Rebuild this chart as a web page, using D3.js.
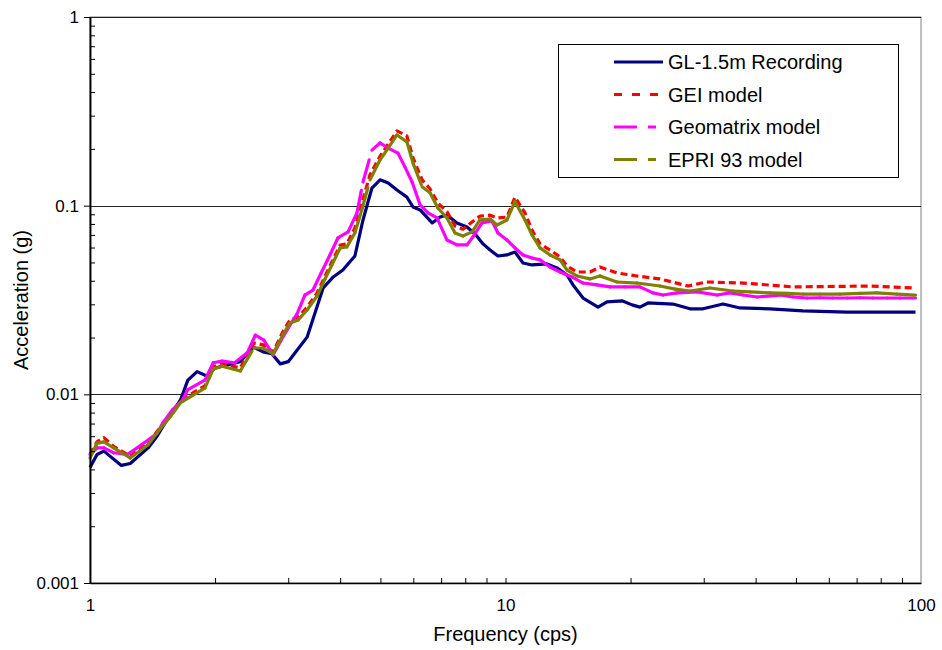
<!DOCTYPE html>
<html>
<head>
<meta charset="utf-8">
<script src="https://cdn.jsdelivr.net/npm/d3@7"></script>
<style>
body { margin: 0; background: #fff; }
svg { display: block; font-family: Arial, "Liberation Sans", sans-serif; }
</style>
</head>
<body>
<svg id="chart"></svg>
<script>
// response spectra
const recFreq = [1.00,1.04,1.08,1.19,1.25,1.38,1.45,1.53,1.65,1.72,1.81,1.91,2.00,2.14,2.30,2.47,2.61,2.74,2.87,3.00,3.33,3.64,3.85,4.06,4.34,4.54,4.77,4.99,5.22,5.48,5.79,5.99,6.23,6.66,6.96,7.23,7.64,8.08,8.45,8.83,9.18,9.59,10.08,10.54,11.02,11.58,12.59,13.30,14.06,14.54,15.37,16.70,17.55,19.07,20.16,21.07,22.03,25.30,27.80,29.88,33.39,36.68,43.3,52.0,66.4,97];
const recAcc = [0.0041,0.0048,0.0050,0.0042,0.0043,0.0052,0.0060,0.0073,0.0093,0.0119,0.0132,0.0125,0.0138,0.0143,0.0149,0.0178,0.0168,0.0164,0.0145,0.0149,0.0201,0.0366,0.0419,0.0456,0.0541,0.084,0.124,0.137,0.132,0.121,0.111,0.0984,0.0949,0.081,0.0871,0.0893,0.081,0.0771,0.0708,0.0627,0.0582,0.0541,0.0548,0.0568,0.0497,0.0485,0.0491,0.0468,0.0429,0.038,0.0324,0.029,0.0309,0.0313,0.0298,0.029,0.0305,0.0301,0.0284,0.0284,0.0301,0.0287,0.0284,0.0277,0.0273,0.0273];

const geiFreq = [1.00,1.04,1.08,1.14,1.25,1.38,1.47,1.56,1.65,1.77,1.89,1.98,2.08,2.30,2.48,2.61,2.76,2.91,3.03,3.17,3.33,3.52,3.68,3.82,4.00,4.15,4.34,4.51,4.72,4.99,5.22,5.48,5.79,5.99,6.30,6.58,6.88,7.23,7.56,7.90,8.31,8.68,9.18,9.54,10.08,10.54,11.14,11.58,12.11,12.80,13.53,14.06,14.86,15.97,16.88,18.55,20.73,23.54,27.5,30.5,37.3,49.2,75.4,97];
const geiAcc = [0.0048,0.0056,0.0059,0.0053,0.0047,0.0055,0.0066,0.0077,0.0092,0.0102,0.0111,0.0140,0.0145,0.0138,0.0187,0.0183,0.0168,0.0214,0.0248,0.0257,0.029,0.0345,0.0424,0.0503,0.0619,0.0626,0.0762,0.103,0.146,0.183,0.212,0.249,0.234,0.179,0.137,0.123,0.103,0.093,0.078,0.075,0.082,0.088,0.089,0.086,0.087,0.111,0.0915,0.0743,0.0627,0.0582,0.0535,0.0479,0.0445,0.0445,0.0473,0.044,0.0424,0.0409,0.0375,0.0394,0.0389,0.0371,0.0375,0.0366];

const geoFreq = [1.00,1.04,1.08,1.14,1.23,1.33,1.45,1.50,1.58,1.67,1.72,1.89,1.98,2.08,2.23,2.39,2.50,2.62,2.76,2.87,3.00,3.15,3.29,3.44,3.60,3.78,3.95,4.18,4.39,4.54,4.77,4.99,5.22,5.51,5.73,5.96,6.23,6.51,6.84,7.23,7.64,8.08,8.35,8.78,9.28,9.59,10.08,10.54,11.02,11.58,12.11,12.80,13.53,14.45,15.37,16.60,17.85,19.4,21.07,22.64,23.93,25.86,28.9,32.3,34.7,37.3,40.3,45.8,49.2,53.2,57.1,61.4,66.4,71.3,76.6,82.8,89.0,97];
const geoAcc = [0.0048,0.0052,0.0052,0.0049,0.0048,0.0054,0.0062,0.0071,0.0083,0.0093,0.0106,0.0119,0.0147,0.0150,0.0147,0.0166,0.0206,0.0194,0.0162,0.019,0.0225,0.0267,0.0336,0.0357,0.044,0.0548,0.0674,0.0726,0.0915,0.1335,0.197,0.215,0.202,0.190,0.160,0.1335,0.101,0.0915,0.0861,0.0658,0.062,0.062,0.0683,0.081,0.083,0.0717,0.0658,0.0597,0.0548,0.0528,0.0516,0.0473,0.0445,0.0419,0.0389,0.038,0.0371,0.0371,0.0371,0.0345,0.0336,0.0345,0.0349,0.0336,0.0345,0.0336,0.0328,0.0336,0.0328,0.0324,0.0325,0.0324,0.0324,0.0325,0.0324,0.0324,0.0324,0.0324];

const epriFreq = [1.00,1.04,1.08,1.14,1.25,1.38,1.47,1.56,1.65,1.77,1.89,1.98,2.08,2.30,2.48,2.61,2.76,2.91,3.03,3.17,3.33,3.52,3.68,3.82,4.00,4.15,4.34,4.51,4.72,4.99,5.22,5.48,5.79,5.99,6.30,6.58,6.88,7.23,7.56,7.90,8.31,8.68,9.18,9.54,10.08,10.54,11.14,11.58,12.11,12.80,13.53,14.06,14.86,15.97,16.88,18.55,20.73,23.54,25.6,27.80,31.06,35.28,38.8,43.3,47.6,52.0,57.1,63.8,71.3,78.4,87.6,97];
const epriAcc = [0.0046,0.0055,0.0056,0.0052,0.0046,0.0054,0.0065,0.0076,0.0090,0.0099,0.0108,0.0136,0.0141,0.0133,0.0176,0.0176,0.0164,0.0206,0.0239,0.0248,0.0280,0.0332,0.0409,0.0485,0.0597,0.0604,0.0717,0.0949,0.137,0.175,0.202,0.237,0.218,0.168,0.126,0.117,0.097,0.086,0.0717,0.0691,0.0726,0.084,0.085,0.079,0.084,0.105,0.084,0.070,0.0597,0.0548,0.0516,0.0456,0.0424,0.0409,0.0424,0.0394,0.0389,0.0375,0.0361,0.0353,0.0366,0.0353,0.0349,0.0345,0.0343,0.0340,0.0340,0.0340,0.0343,0.0345,0.0340,0.0336];

const seriesNames = ["GL-1.5m Recording", "GEI model", "Geomatrix model", "EPRI 93 model"];
const xMajor = [1, 10, 100];
const yMajor = [0.001, 0.01, 0.1, 1];

const width = 942, height = 650;
const margin = { top: 17, right: 21, bottom: 67, left: 90 };

const series = [
    { name: seriesNames[0], f: recFreq, a: recAcc, color: "#000080", dash: null, perSeg: false },
    { name: seriesNames[1], f: geiFreq, a: geiAcc, color: "#ff0000", dash: "7,4", perSeg: false },
    { name: seriesNames[2], f: geoFreq, a: geoAcc, color: "#ff00ff", dash: "23,11", perSeg: true },
    { name: seriesNames[3], f: epriFreq, a: epriAcc, color: "#808000", dash: "23,11", perSeg: true }
];

const svg = d3.select("#chart").attr("width", width).attr("height", height);

const x = d3.scaleLog().domain([1, 100]).range([margin.left, width - margin.right]);
const y = d3.scaleLog().domain([0.001, 1]).range([height - margin.bottom, margin.top]);

// minor tick positions
const minorX = [], minorY = [];
[1, 10].forEach(d => { for (let k = 2; k <= 9; k++) minorX.push(d * k); });
[0.001, 0.01, 0.1].forEach(d => { for (let k = 2; k <= 9; k++) minorY.push(+(d * k).toPrecision(3)); });

// plot frame
svg.append("rect")
    .attr("x", x(1)).attr("y", y(1))
    .attr("width", x(100) - x(1)).attr("height", y(0.001) - y(1))
    .attr("fill", "#fff").attr("stroke", "#808080").attr("stroke-width", 1);

// horizontal gridlines
svg.append("g")
    .selectAll("line")
    .data([0.01, 0.1, 1])
    .join("line")
    .attr("x1", x(1)).attr("x2", x(100))
    .attr("y1", d => Math.round(y(d)) + 0.5).attr("y2", d => Math.round(y(d)) + 0.5)
    .attr("stroke", "#222").attr("stroke-width", 1);

// curves
series.forEach(s => {
    const pts = d3.zip(s.f, s.a);
    if (s.perSeg) {
        // dash pattern restarts on every segment
        svg.append("g")
            .selectAll("line")
            .data(d3.pairs(pts))
            .join("line")
            .attr("x1", d => x(d[0][0])).attr("y1", d => y(d[0][1]))
            .attr("x2", d => x(d[1][0])).attr("y2", d => y(d[1][1]))
            .attr("stroke", s.color)
            .attr("stroke-width", 3.2)
            .attr("stroke-linecap", "round")
            .attr("stroke-dasharray", s.dash);
    } else {
        svg.append("path")
            .datum(pts)
            .attr("fill", "none")
            .attr("stroke", s.color)
            .attr("stroke-width", 3.2)
            .attr("stroke-linejoin", "round")
            .attr("stroke-dasharray", s.dash)
            .attr("d", d3.line().x(d => x(d[0])).y(d => y(d[1])));
    }
});

// y axis
const yAxis = svg.append("g").attr("transform", `translate(${x(1)},0)`);
yAxis.call(d3.axisLeft(y).tickValues(minorY).tickSize(-5).tickSizeOuter(0).tickFormat(""));
const yLab = svg.append("g").attr("transform", `translate(${x(1)},0)`)
    .call(d3.axisLeft(y).tickValues(yMajor).tickSize(6).tickSizeOuter(0).tickPadding(5).tickFormat(d => String(d)));
yLab.selectAll("text").style("font-size", "17px").attr("fill", "#000");
svg.selectAll(".domain").attr("stroke", "#000").attr("stroke-width", 1.5);

// x axis
svg.append("g").attr("transform", `translate(0,${y(0.001)})`)
    .call(d3.axisBottom(x).tickValues(minorX.concat([10])).tickSize(-5).tickSizeOuter(0).tickFormat(""))
    .select(".domain").attr("stroke", "#000").attr("stroke-width", 1.5);
const xLab = svg.append("g").attr("transform", `translate(0,${y(0.001)})`)
    .call(d3.axisBottom(x).tickValues(xMajor).tickSize(0).tickPadding(16).tickFormat(d => String(d)));
xLab.select(".domain").remove();
xLab.selectAll("text").style("font-size", "17px").attr("fill", "#000");

// axis titles
svg.append("text")
    .attr("x", (x(1) + x(100)) / 2)
    .attr("y", 641)
    .attr("text-anchor", "middle")
    .style("font-size", "20px")
    .text("Frequency (cps)");
svg.append("text")
    .attr("transform", `translate(28,${(y(1) + y(0.001)) / 2}) rotate(-90)`)
    .attr("text-anchor", "middle")
    .style("font-size", "20px")
    .text("Acceleration (g)");

// legend
const legend = svg.append("g").attr("transform", "translate(558.5,44.5)");
legend.append("rect")
    .attr("width", 340).attr("height", 133)
    .attr("fill", "#fff").attr("stroke", "#000").attr("stroke-width", 1);
const legendDash = [null, "8,10", "23,11", "23,11"];
const legendLen = [49, 49, 42, 42];
series.forEach((s, i) => {
    const row = legend.append("g").attr("transform", `translate(0,${17.5 + i * 32.5})`);
    row.append("line")
        .attr("x1", 55.5).attr("x2", 55.5 + legendLen[i])
        .attr("stroke", s.color).attr("stroke-width", 3.2)
        .attr("stroke-dasharray", legendDash[i]);
    row.append("text")
        .attr("x", 109.5).attr("dy", "0.35em")
        .style("font-size", "20px")
        .text(s.name);
});
</script>
</body>
</html>
